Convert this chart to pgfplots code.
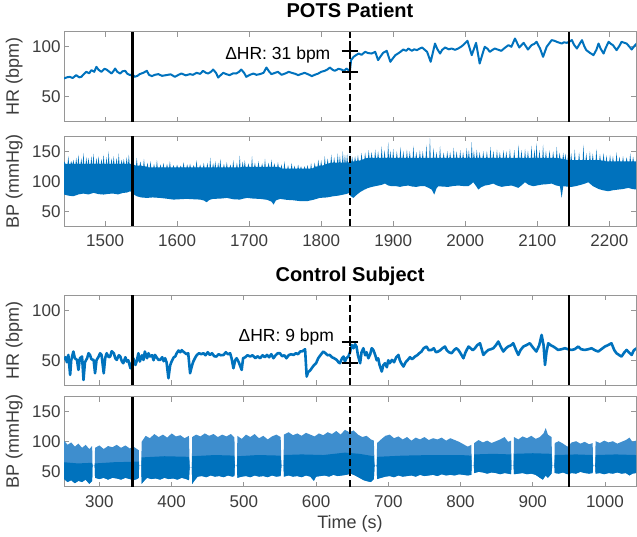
\documentclass[border=0pt]{standalone}
\usepackage{fontspec}
\setmainfont{Liberation Sans}
\usepackage{pgfplots}
\pgfplotsset{compat=1.18}
\usepgfplotslibrary{fillbetween}
\definecolor{mblue}{RGB}{0,114,189}
\definecolor{mlight}{RGB}{62,142,206}
\definecolor{axgray}{RGB}{150,150,150}
\definecolor{txtgray}{RGB}{60,60,60}
\tikzset{ann/.style={font=\fontsize{17.5}{17.5}\selectfont, anchor=base east, inner sep=0pt}}
\pgfplotsset{
 base/.style={
  scale only axis, width=572pt, height=90pt,
  axis line style={axgray, line width=0.7pt},
  tick style={axgray, line width=0.7pt},
  major tick length=5pt,
  tick align=inside, tick pos=both,
  ticklabel style={font=\fontsize{17}{17}\selectfont, text=txtgray},
  xticklabel style={yshift=-5pt},
  /pgf/number format/assume math mode=true,
  /pgf/number format/set thousands separator={},
  label style={font=\fontsize{18}{18}\selectfont, text=txtgray},
  ylabel style={at={(axis description cs:-0.072,0.5)}, anchor=south, inner sep=0pt},
  title style={font=\bfseries\fontsize{20}{20}\selectfont, at={(axis description cs:0.5,1)}, anchor=base, yshift=8pt},
 },
 hr/.style={base, ymin=25, ymax=115, ytick={50,100}, ylabel={HR (bpm)}},
 bp/.style={base, ymin=25, ymax=175, ytick={50,100,150}, ylabel={BP (mmHg)}},
 hrline/.style={mblue, line width=2pt, line join=round},
 vsolid/.style={black, line width=2.6pt, forget plot},
 vdash/.style={black, line width=2.6pt, dash pattern=on 7pt off 3.5pt, forget plot},
 crs/.style={black, only marks, mark=+, mark size=3.5pt, mark options={xscale=2.4, line width=1.6pt}},
}
\begin{document}
\begin{tikzpicture}
\path (0,0) rectangle (637pt,533pt);
% ---------------- POTS HR
\begin{axis}[hr, at={(64pt,414.7pt)}, anchor=south west, xmin=1443, xmax=2237,
  xtick={1500,1600,...,2200}, xticklabels={}, title={POTS Patient}]
\addplot[hrline] coordinates {(1443,68.3) (1447,69.5) (1451,70) (1455,68.8) (1460,71.7) (1464,69.5) (1467,70) (1471,73) (1474,75) (1478,73.5) (1481,76.7) (1485,75) (1488,80) (1491,77) (1495,75) (1499,78) (1502,77.3) (1506,75) (1509,73.3) (1512,76) (1514,78.3) (1517,75) (1521,73.3) (1524,75.5) (1528,76) (1531,73) (1535,71.7) (1538,72.5) (1541,70) (1545,71) (1548,72.7) (1553,74) (1558,76) (1561,72) (1565,70.7) (1569,72) (1574,72.7) (1579,71) (1585,71.7) (1591,72.5) (1597,70) (1602,72) (1606,73.3) (1612,71.5) (1618,72.7) (1622,72) (1627,74) (1632,73) (1636,76) (1640,74) (1643,73.3) (1647,75) (1650,77.3) (1654,74) (1657,69.3) (1661,72) (1664,74) (1669,72.5) (1673,71.7) (1678,73.5) (1682,73.3) (1686,75) (1689,77.3) (1693,74) (1696,70) (1701,72) (1706,73.3) (1710,72) (1715,72.7) (1720,74) (1724,79.3) (1728,75) (1731,72.7) (1736,74) (1740,75) (1745,72) (1750,73.3) (1755,75) (1759,74) (1764,73) (1768,71.7) (1773,73) (1777,74) (1782,72.5) (1787,70.7) (1791,72) (1796,73.3) (1800,75) (1805,76) (1809,77.5) (1812,79.3) (1816,77) (1819,76) (1824,78) (1828,77.3) (1832,76) (1835,78.3) (1838,76.7) (1840,76.7) (1841.5,86.7) (1845,90) (1848,91.5) (1852,93.3) (1856,92) (1861,95) (1865,93.8) (1870,93.3) (1875,95) (1879,86.7) (1883,91) (1886,94) (1891,96) (1896,85) (1899,88) (1903,91.7) (1906,93) (1910,95) (1914,97.3) (1918,96) (1921,98.3) (1926,96) (1929,97.5) (1933,96.7) (1936,98) (1940,99.3) (1943,97.5) (1947,95) (1952,85) (1958,103.3) (1961,98) (1965,93.3) (1968,97) (1972,99.3) (1977,97.5) (1981,98.3) (1986,97) (1990,98.3) (1994,100) (1997,101.7) (2003,106) (2009,91.7) (2015,104) (2020,83.3) (2024,93) (2027,100) (2031,98) (2034,95) (2038,97) (2041,98.3) (2046,97) (2050,96) (2055,99) (2060,101.7) (2064,100) (2069,108.3) (2075,99.3) (2081,104) (2087,97.3) (2092,101.7) (2096,103) (2099,105) (2104,98) (2108,90) (2113,100) (2120,106.7) (2124,106) (2127,105) (2131,104) (2134,103.3) (2137,104.5) (2141,104) (2144,105) (2148,106.7) (2151,102) (2155,98.3) (2158,102) (2162,106.7) (2165,101) (2168,96.7) (2173,94) (2178,91.7) (2182,97) (2185,103.3) (2188,98) (2192,93.3) (2195,99) (2199,105) (2202,103) (2205,101.7) (2210,96.7) (2214,101) (2217,105) (2221,104) (2224,103.3) (2228,100) (2231,97.3) (2235,101) (2238,103.3)};
\addplot[vsolid] coordinates {(1538,25) (1538,115)};
\addplot[vdash] coordinates {(1840,25) (1840,115)};
\addplot[vsolid] coordinates {(2144,25) (2144,115)};
\addplot[crs] coordinates {(1840,75) (1840,96)};
\node[ann] at (axis cs:1813,87.7) {ΔHR: 31 bpm};
\end{axis}
% ---------------- POTS BP
\begin{axis}[bp, at={(64pt,310.3pt)}, anchor=south west, xmin=1443, xmax=2237,
  xtick={1500,1600,...,2200}]
\addplot[draw=none, name path=pu, forget plot] coordinates {(1443,129) (1443.5,133) (1445,129) (1448,129) (1449,141.7) (1450,129) (1452,129) (1453,134) (1454,129) (1455,129) (1456,136) (1457,129) (1459,129) (1460,139) (1461,129) (1462,129) (1463,144.4) (1464,129) (1466,129) (1467,138) (1468,129) (1469,129) (1470,147.2) (1471,129) (1473,129) (1474,140) (1475,129) (1476,129) (1477,138.9) (1478,129) (1480,129) (1481,142) (1482,129) (1483,129) (1484,146) (1485,129) (1487,129) (1488,139) (1489,129) (1490,129) (1491,141.7) (1492,129) (1494,129) (1495,137) (1496,129) (1497,129) (1498,144.4) (1499,129) (1501,129) (1502,140) (1503,129) (1504,129) (1505,150) (1506,129) (1508,129) (1509,138) (1510,129) (1511,129) (1512,141.7) (1513,129) (1515,129) (1516,139) (1517,129) (1518,129) (1519,146) (1520,129) (1522,129) (1523,136) (1524,129) (1525,129) (1526,137.2) (1527,129) (1529,129) (1530,140) (1531,129) (1532,129) (1533,144.4) (1534,129) (1537,129) (1538,148.3) (1539,128) (1543,126) (1544,138.9) (1545,126) (1548,126) (1549,133) (1550,126) (1553,125) (1554,137.2) (1555,125) (1558,124) (1559,131) (1560,123) (1562,123) (1563,133.3) (1564,123) (1567,123) (1568,129) (1569,123) (1571,123) (1572,135) (1573,123) (1576,123) (1577,128) (1578,123) (1580,123) (1581,130.6) (1582,123) (1585,123) (1586,129) (1587,123) (1589,123) (1590,133.3) (1591,123) (1594,123) (1595,127) (1596,123) (1599,123) (1600,127.8) (1601,123) (1604,123) (1605,126) (1606,123) (1608,123) (1609,131.7) (1610,123) (1613,123) (1614,128) (1615,123) (1617,123) (1618,129.4) (1619,123) (1622,123) (1623,127) (1624,123) (1626,123) (1627,135) (1628,123) (1631,123) (1632,128) (1633,123) (1636,123) (1637,130.6) (1638,123) (1641,123) (1642,131) (1643,123) (1645,123) (1646,138.9) (1647,123) (1649,123) (1650,130) (1651,123) (1652,123) (1653,133.3) (1654,123) (1656,123) (1657,131) (1658,123) (1659,123) (1660,137.2) (1661,123) (1664,123) (1665,129) (1666,123) (1668,123) (1669,131.7) (1670,123) (1673,123) (1674,128) (1675,123) (1677,123) (1678,135) (1679,123) (1682,123) (1683,131) (1684,123) (1686,123) (1687,142.8) (1688,123) (1690,124) (1691,133) (1692,124) (1693,124) (1694,135) (1695,124) (1698,124) (1699,130) (1700,124) (1703,124) (1704,141.7) (1705,124) (1707,124) (1708,131) (1709,124) (1712,124) (1713,133.3) (1714,124) (1717,124) (1718,130) (1719,124) (1721,124) (1722,137.2) (1723,124) (1726,124) (1727,131) (1728,124) (1730,124) (1731,136.1) (1732,124) (1734,124) (1735,130) (1736,124) (1739,124) (1740,131.7) (1741,124) (1744,122) (1745,128) (1746,121) (1748,121) (1749,133.3) (1750,121) (1753,121) (1754,127) (1755,121) (1758,121) (1759,130.6) (1760,121) (1762,121) (1763,126) (1764,121) (1767,121) (1768,127.8) (1769,121) (1771,121) (1772,125) (1773,121) (1776,121) (1777,125) (1778,121) (1780,121) (1781,127) (1782,121) (1785,121) (1786,130.6) (1787,121) (1790,123) (1791,131) (1792,124) (1795,125) (1796,136.1) (1797,126) (1799,126) (1800,135) (1801,126) (1804,127) (1805,141.7) (1806,128) (1808,129) (1809,138) (1810,129) (1813,131) (1814,144.4) (1815,131) (1817,131) (1818,140) (1819,131) (1822,131) (1823,146.1) (1824,131) (1825,131) (1826,143) (1827,131) (1829,131) (1830,150) (1831,131) (1832,131) (1833,144) (1834,131) (1835,131) (1836,146) (1837,131) (1839,132) (1840,146.1) (1841,132) (1842,133) (1843,141) (1844,133) (1846,133) (1847,141.7) (1848,134) (1850,134) (1851,144) (1852,134) (1855,135) (1856,147.2) (1857,136) (1860,137) (1861,148) (1862,138) (1865,139) (1866,151.7) (1867,139) (1869,139) (1870,149) (1871,139) (1874,139) (1875,152.8) (1876,139) (1878,139) (1879,150) (1880,139) (1883,139) (1884,158.3) (1885,139) (1887,139) (1888,152) (1889,139) (1892,139) (1893,165) (1894,139) (1895,139) (1896,151) (1897,139) (1899,139) (1900,153.9) (1901,139) (1904,139) (1905,150) (1906,139) (1909,139) (1910,157.2) (1911,139) (1913,139) (1914,151) (1915,139) (1918,139) (1919,152.8) (1920,139) (1922,139) (1923,150) (1924,139) (1927,139) (1928,159.4) (1929,139) (1931,139) (1932,149) (1933,139) (1936,139) (1937,151.7) (1938,139) (1940,139) (1941,150) (1942,139) (1945,139) (1946,161.1) (1947,139) (1950,139) (1951,172.2) (1952,139) (1955,139) (1956,155.6) (1957,139) (1959,139) (1960,149) (1961,139) (1964,139) (1965,158.3) (1966,139) (1969,139) (1970,148) (1971,139) (1974,139) (1975,150) (1976,139) (1978,139) (1979,149) (1980,139) (1983,139) (1984,155.6) (1985,139) (1987,139) (1988,150) (1989,139) (1992,139) (1993,151.7) (1994,139) (1996,139) (1997,149) (1998,139) (2001,139) (2002,155.6) (2003,139) (2004,139) (2005,152) (2006,139) (2008,139) (2009,165) (2010,139) (2011,139) (2012,151) (2013,139) (2015,139) (2016,152.8) (2017,139) (2019,139) (2020,149) (2021,139) (2024,139) (2025,150) (2026,139) (2029,139) (2030,150) (2031,139) (2034,139) (2035,157.2) (2036,139) (2038,139) (2039,151) (2040,139) (2043,139) (2044,152.8) (2045,139) (2047,139) (2048,149) (2049,139) (2052,139) (2053,151.7) (2054,139) (2056,139) (2057,150) (2058,139) (2061,139) (2062,153.9) (2063,139) (2067,139) (2068,152) (2069,139) (2073,139) (2074,161.1) (2075,139) (2077,139) (2078,152) (2079,139) (2082,139) (2083,153.9) (2084,139) (2086,139) (2087,151) (2088,139) (2091,139) (2092,159.4) (2093,139) (2095,139) (2096,153) (2097,139) (2098,139) (2099,163.9) (2100,139) (2102,139) (2103,152) (2104,139) (2107,139) (2108,161.1) (2109,139) (2111,139) (2112,151) (2113,139) (2116,139) (2117,151.7) (2118,139) (2121,139) (2122,150) (2123,139) (2126,139) (2127,157.2) (2128,139) (2130,138) (2131,148) (2132,138) (2135,137) (2136,147.2) (2137,137) (2138,136) (2139,146) (2140,136) (2142,135) (2143,150) (2144,135) (2146,135) (2147,147) (2148,135) (2151,135) (2152,152.8) (2153,135) (2157,135) (2158,148) (2159,135) (2163,135) (2164,161.1) (2165,135) (2167,135) (2168,147) (2169,135) (2172,135) (2173,150) (2174,135) (2176,135) (2177,146) (2178,135) (2181,135) (2182,153.9) (2183,135) (2186,135) (2187,145) (2188,135) (2191,134) (2192,147.2) (2193,134) (2195,133) (2196,143) (2197,133) (2200,133) (2201,144.4) (2202,133) (2204,133) (2205,142) (2206,133) (2209,133) (2210,148.3) (2211,133) (2213,133) (2214,141) (2215,133) (2218,133) (2219,141.7) (2220,133) (2223,133) (2224,140) (2225,133) (2228,133) (2229,146.1) (2230,133) (2232,133) (2233,141) (2234,133) (2237,133) (2238,143)};
\addplot[draw=none, name path=pl, forget plot] coordinates {(1443,77.8) (1449,76) (1456,75) (1463,78) (1470,79.4) (1477,78) (1484,80.6) (1491,78.5) (1498,77.8) (1505,79) (1511.5,79.4) (1518,78) (1525,80.6) (1530,81) (1535,83.3) (1540,78) (1544,75) (1550,73) (1558,72.2) (1566,73) (1576,72.2) (1585,71) (1595,69.4) (1604,70) (1613,70.6) (1622,70) (1632,69.4) (1637,68) (1641,65) (1645,69) (1650,70.6) (1660,71) (1669,72.2) (1678,70) (1687,69.4) (1692,71) (1697,72.2) (1706,71) (1715,70.6) (1725,69) (1731,66) (1734,61) (1737,68) (1743,70.6) (1752,69) (1761,68.3) (1770,67) (1780,66.7) (1789,69) (1798,72.2) (1808,73) (1817,75) (1824,76) (1831,77.8) (1836,79) (1838,80.6) (1840,76.1) (1844.6,72.2) (1849,77) (1853.8,81.7) (1860,86) (1865.4,88.9) (1872,91) (1879.3,92.8) (1884,94) (1888.5,96.1) (1893,93) (1897.8,91.7) (1903,92) (1909.3,90.6) (1915,92) (1920.9,92.8) (1927,91) (1932.5,90.6) (1938,92) (1944,91.7) (1949,89) (1953.3,86.1) (1957,77.8) (1960,88) (1962.6,91.7) (1969,91) (1976.4,90.6) (1983,92) (1990.3,92.8) (1997,92) (2004.2,91.7) (2008,95) (2011.1,98.3) (2015,92) (2018.1,86.1) (2022,90) (2027.3,92.8) (2033,94) (2038.9,96.1) (2044,93) (2050.5,90.6) (2057,92) (2064.4,92.8) (2069,91) (2073.6,88.9) (2078,93) (2082.9,98.3) (2088,94) (2094.4,91.7) (2100,93) (2106,94.4) (2113,95) (2119.9,96.1) (2126,93) (2131.4,91.7) (2133.8,72.2) (2136,91.7) (2142,91) (2147.6,90.6) (2154,92) (2161.5,94.4) (2166,96) (2170.8,98.3) (2177,92) (2184.7,87.2) (2191,85) (2198.5,83.3) (2205,85) (2212.4,86.1) (2219,87) (2226.3,88.9) (2232,87) (2237.9,86.1)};
\addplot[mblue, draw=none] fill between[of=pu and pl];
\addplot[vsolid] coordinates {(1538,25) (1538,175)};
\addplot[vdash] coordinates {(1840,25) (1840,175)};
\addplot[vsolid] coordinates {(2144,25) (2144,175)};
\end{axis}
% ---------------- Control HR
\begin{axis}[hr, at={(64pt,151.3pt)}, anchor=south west, xmin=251, xmax=1043,
  xtick={300,400,...,1000}, xticklabels={}, title={Control Subject}]
\addplot[hrline, line width=2.6pt] coordinates {(251,50.3) (253,53) (255,48) (257,55.3) (259.5,35.3) (261,50) (264,58.7) (266,52) (269,50.3) (271,40.3) (273,52) (276,53.7) (278,30.3) (280,48) (283,52) (285,57) (287,55.3) (289,51) (292,50.3) (294,37) (296,50) (299,53.7) (301,57) (303,55.3) (306,37) (308,52) (310,57) (313,53) (315,53.7) (317,59) (320,57) (322,52) (324,50.3) (327,55) (329,53.7) (331,49) (333,47) (336,53) (338,48.7) (340,50) (343,42) (345,47) (347,52) (350,45.3) (352,50) (354,57) (356,48.7) (359,55) (361,50.3) (363,58.7) (366,52) (368,57) (370,53.7) (373,55) (375,50) (377,55.3) (380,52) (382,50.3) (384,50.3) (387,53) (389,49) (391,52) (393,48) (395.6,32) (398,45) (400,48.7) (403,53) (405,53.7) (407,57) (409.5,59.7) (412,58) (414,60) (416,58.7) (419,57) (421,56) (423,57) (425.6,37) (428,44) (430,48.7) (433,53) (435,55.3) (438,57) (441,56) (444,57) (447,55) (450,58) (453,55.3) (456,57) (459,54) (462,53.7) (465,56) (468,55) (472,55.3) (475,58) (478,56) (481,57) (483,52) (485.6,42) (488,50) (490,52) (493,48) (497,40.3) (499,52) (502,53) (505,55) (509,53.7) (512,55) (516,52) (519,54) (522.5,52) (526,55) (529,53) (532,55.3) (535,53) (538,56) (541,52) (544,55) (547,57) (550,57) (553,54) (556,55) (559,52) (562,55) (565,56) (569,55.3) (572,57) (575,56) (578,58.7) (581,59) (584.8,61) (587,33.7) (589,38) (592,40) (594,42) (597,45) (600,47) (603,52) (606,55) (610,58.7) (613,57) (616,55) (619,55.3) (622,53) (625,52) (628.6,50.3) (631,48) (633,47) (636,52) (638,53.7) (640,48.7) (642,52) (644.7,53.7) (647,58) (649.3,65.3) (652,62) (654,66) (656,63.7) (658,55) (661,47) (663,58) (665.5,62) (668,55) (670,58) (672.4,52) (675,56) (677,62) (679.3,60.3) (682,55) (684,50) (686,52) (688,45) (691,38.7) (693,45) (695.5,47) (698,43) (700,50) (702,47) (705,50.3) (708,48) (711,53) (714,55.3) (716,50) (718,47) (721,43.7) (724,48) (727,50.3) (730,53) (733,51) (737,53.7) (740,55) (743,57) (746,58.7) (749,62) (753,63.7) (756,60) (760,60.3) (763,62) (766,58) (769,58.7) (772,60) (775,62) (778.5,63.7) (781,60) (784,58) (787.7,57) (791,60) (794,62) (797,60.3) (800,57) (804,52) (807,58) (811,63.7) (814,62) (817,60) (820,62) (823,65) (827,67) (829,62) (831.6,55.3) (835,58) (838.5,60.3) (842,61) (845.4,62) (849,65) (852.3,68.7) (856,63) (859.3,58.7) (863,62) (866,63.7) (870,65) (873,67) (877,60) (880,55.3) (883,60) (887,63.7) (891,65) (896,67) (900,63) (905,58.7) (909,65) (912.3,75.3) (915,65) (917,45.3) (919,58) (921.5,67) (925,65) (928.5,63.7) (932,62) (935,60.3) (940,61) (944.6,62) (949,61) (954,60.3) (958,61) (963,63.7) (967,61) (972,60.3) (977,61) (981.5,62) (986,60) (990.7,58.7) (995,61) (1000,63.7) (1004,65) (1009,67) (1013,60) (1016,57) (1020,55) (1023,53.7) (1027,58) (1030,60.3) (1033,58) (1037,55.3) (1040,60) (1044,62)};
\addplot[vsolid] coordinates {(346,25) (346,115)};
\addplot[vdash] coordinates {(647,25) (647,115)};
\addplot[vsolid] coordinates {(950,25) (950,115)};
\addplot[crs] coordinates {(647,47) (647,68)};
\node[ann] at (axis cs:625,68.7) {ΔHR: 9 bpm};
\end{axis}
% ---------------- Control BP
\begin{axis}[bp, at={(64pt,49.7pt)}, anchor=south west, xmin=251, xmax=1043,
  xtick={300,400,...,1000}, xlabel={Time (s)},
  xlabel style={at={(axis description cs:0.5,-0.463)}, anchor=base}]
\addplot[draw=none, name path=cu, forget plot] coordinates {(251,102) (256,95) (261,99) (266,92) (271,97) (276,90) (281,95) (286,88) (290,93) (290.5,60) (293.5,60) (294,90) (300,94) (306,88) (312,93) (318,91) (324,95) (330,90) (336,94) (342,89) (347,92) (352,88) (354.5,86) (355,60) (358,60) (358.5,100) (364,110) (370,106) (376,113) (382,108) (388,112) (394,107) (400,114) (406,109) (412,111) (418,106) (424,110) (425,58) (428,58) (428.5,108) (434,112) (440,109) (446,114) (452,110) (458,113) (464,108) (470,112) (476,109) (482,113) (487,107) (487.5,60) (490.5,60) (491,110) (497,105) (503,112) (509,108) (515,113) (521,106) (527,110) (533,104) (539,109) (545,112) (551,108) (552,60) (555,60) (555.5,112) (562,116) (568,111) (574,114) (580,110) (586,115) (592,112) (598,109) (604,114) (610,111) (616,116) (622,113) (628,118) (634,112) (640,120) (646,116) (652,119) (658,112) (664,108) (670,110) (676,104) (680,102) (681,60) (684,60) (684.5,98) (690,104) (696,110) (702,112) (708,106) (714,109) (720,104) (726,108) (732,102) (738,107) (744,104) (750,108) (756,103) (762,106) (768,104) (774,107) (780,102) (786,106) (792,103) (798,100) (804,96) (810,92) (815,95) (815.5,60) (818.5,60) (819,98) (825,103) (831,99) (837,102) (843,98) (849,101) (855,104) (861,108) (866,100) (870,102) (870.5,60) (873.5,60) (874,108) (880,104) (886,109) (892,106) (898,110) (904,105) (910,108) (915,114) (918,123) (921,112) (926,108) (927,60) (930,60) (930.5,98) (936,101) (942,97) (948,92) (954,99) (960,101) (966,97) (972,100) (978,96) (983,98) (983.5,60) (986.5,60) (987,101) (993,98) (999,102) (1005,99) (1011,101) (1017,97) (1023,100) (1029,103) (1034,107) (1038,100) (1043,102)};
\addplot[draw=none, name path=cc, forget plot] coordinates {(251,66) (270,64) (290,65) (290.5,60) (293.5,60) (294,64) (320,66) (354.5,67) (355,60) (358,60) (358.5,74) (390,76) (424,75) (425,58) (428,58) (428.5,76) (460,78) (487,77) (487.5,60) (490.5,60) (491,76) (520,78) (551,77) (552,60) (555,60) (555.5,78) (580,79) (610,78) (640,82) (660,80) (680,76) (681,60) (684,60) (684.5,75) (720,77) (760,78) (800,78) (815,77) (815.5,60) (818.5,60) (819,79) (845,80) (870,79) (870.5,60) (873.5,60) (874,80) (900,81) (926,80) (927,60) (930,60) (930.5,78) (960,79) (983,78) (983.5,60) (986.5,60) (987,78) (1015,79) (1043,78)};
\addplot[draw=none, name path=cl, forget plot] coordinates {(251,38) (256,33) (261,36) (266,31) (271,35) (276,33) (281,37) (286,30) (290,35) (290.5,60) (293.5,60) (294,40) (300,38) (306,40) (312,37) (318,40) (324,39) (330,37) (336,40) (342,38) (347,36) (352,38) (354.5,40) (355,60) (358,60) (358.5,30) (362,35) (366,40) (372,38) (378,39) (384,37) (390,40) (396,38) (402,39) (408,37) (414,40) (420,38) (424,36) (425,58) (428,58) (428.5,30) (432,36) (436,42) (442,43) (448,41) (454,44) (460,42) (466,43) (472,41) (478,44) (484,42) (487,43) (487.5,60) (490.5,60) (491,40) (497,42) (503,43) (509,41) (515,44) (521,42) (527,43) (533,41) (539,44) (545,42) (551,43) (552,60) (555,60) (555.5,42) (562,44) (568,42) (574,43) (580,41) (586,44) (592,42) (597,35) (600,42) (606,43) (612,44) (618,42) (624,45) (630,43) (636,44) (642,45) (648,47) (654,44) (660,40) (666,36) (672,34) (676,33) (680,38) (681,60) (684,60) (684.5,38) (690,40) (696,42) (702,43) (708,41) (714,44) (720,42) (726,43) (732,44) (738,42) (744,45) (750,43) (756,44) (762,45) (768,43) (774,46) (780,44) (786,45) (792,44) (798,46) (804,45) (810,44) (815,45) (815.5,60) (818.5,60) (819,48) (825,50) (831,49) (837,47) (843,49) (849,48) (855,46) (861,48) (866,47) (870,46) (870.5,60) (873.5,60) (874,46) (880,47) (886,48) (892,46) (898,47) (904,45) (910,40) (914,37) (918,44) (921,40) (926,47) (927,60) (930,60) (930.5,48) (936,47) (942,49) (948,46) (954,48) (960,47) (966,50) (972,48) (978,47) (983,48) (983.5,60) (986.5,60) (987,47) (993,48) (999,46) (1005,48) (1011,47) (1017,49) (1023,47) (1029,48) (1034,44) (1038,47) (1043,48)};
\addplot[mlight, draw=none] fill between[of=cu and cl];
\addplot[mblue, draw=none] fill between[of=cc and cl];
\addplot[vsolid] coordinates {(346,25) (346,175)};
\addplot[vdash] coordinates {(647,25) (647,175)};
\addplot[vsolid] coordinates {(950,25) (950,175)};
\end{axis}
\end{tikzpicture}
\end{document}
